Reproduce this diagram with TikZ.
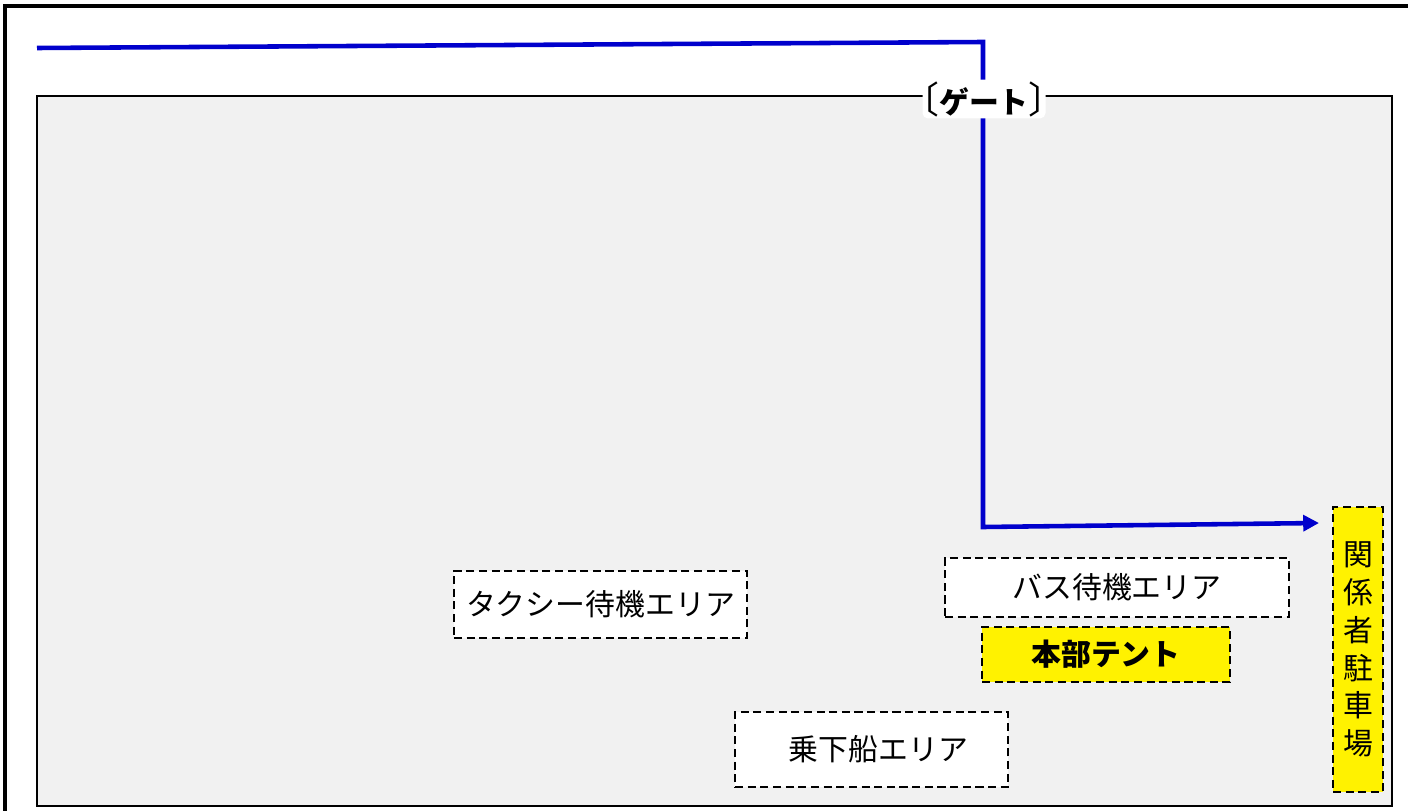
\documentclass[tikz,border=0pt]{standalone}
\usepackage{fontspec}
\newfontfamily\jp{Noto Sans CJK JP}
\usetikzlibrary{arrows.meta}

\begin{document}
\begin{tikzpicture}[x=0.2mm,y=-0.2mm,
    area/.style={draw,line width=1.5pt,dash pattern=on 4.6pt off 2.6pt,
        fill=white,inner sep=0pt,font=\jp\fontsize{17}{20}\selectfont},
    tent/.style={area,fill=yellow},
    route/.style={draw={rgb,255:red,0;green,0;blue,204},line width=2.6pt,
        -{Triangle[length=9pt,width=9pt]}}]
    \clip (0,0) rectangle (1408,811);
    % frames
    \draw[line width=2.3pt] (1500,6) -- (5,6) -- (5,900);
    \draw[line width=1.3pt,fill=black!5.5] (37,96) rectangle (1392,806);
    % areas
    \node[area,minimum width=5.86cm,minimum height=1.34cm] (taxi) at (600.5,604.5) {タクシー待機エリア};
    \node[area,minimum width=6.88cm,minimum height=1.18cm] (bus) at (1117,587.5) {バス待機エリア};
    \node[tent,minimum width=4.96cm,minimum height=1.1cm,font=\jp\bfseries\fontsize{17}{20}\selectfont] (hq) at (1106,654.5) {本部テント};
    \node[area,minimum width=5.46cm,minimum height=1.5cm] (boat) at (871.5,749.5) {\hspace{0.28cm}\raisebox{-0.2cm}{乗下船エリア}};
    \node[tent,minimum width=1cm,minimum height=5.7cm,align=center,
        font=\jp\fontsize{17}{21.5}\selectfont] (park) at (1358,649.5) {関\\係\\者\\駐\\車\\場};
    % route
    \coordinate (start) at (37,48);
    \coordinate (corner) at (983,42);
    \coordinate (turn) at (983,527);
    \coordinate (stop) at (1319,523);
    \draw[route] (start) -- (corner) -- (turn) -- (stop);
    \node[fill=white,rounded corners=3pt,inner sep=1pt,minimum height=0.76cm,
        font=\jp\fontsize{17}{20}\selectfont] (gate) at (984,99)
        {\makebox[0.5em][r]{\fontsize{21}{20}\selectfont〔}{\bfseries ゲート}\makebox[0.5em][l]{\fontsize{21}{20}\selectfont〕}};
\end{tikzpicture}
\end{document}
